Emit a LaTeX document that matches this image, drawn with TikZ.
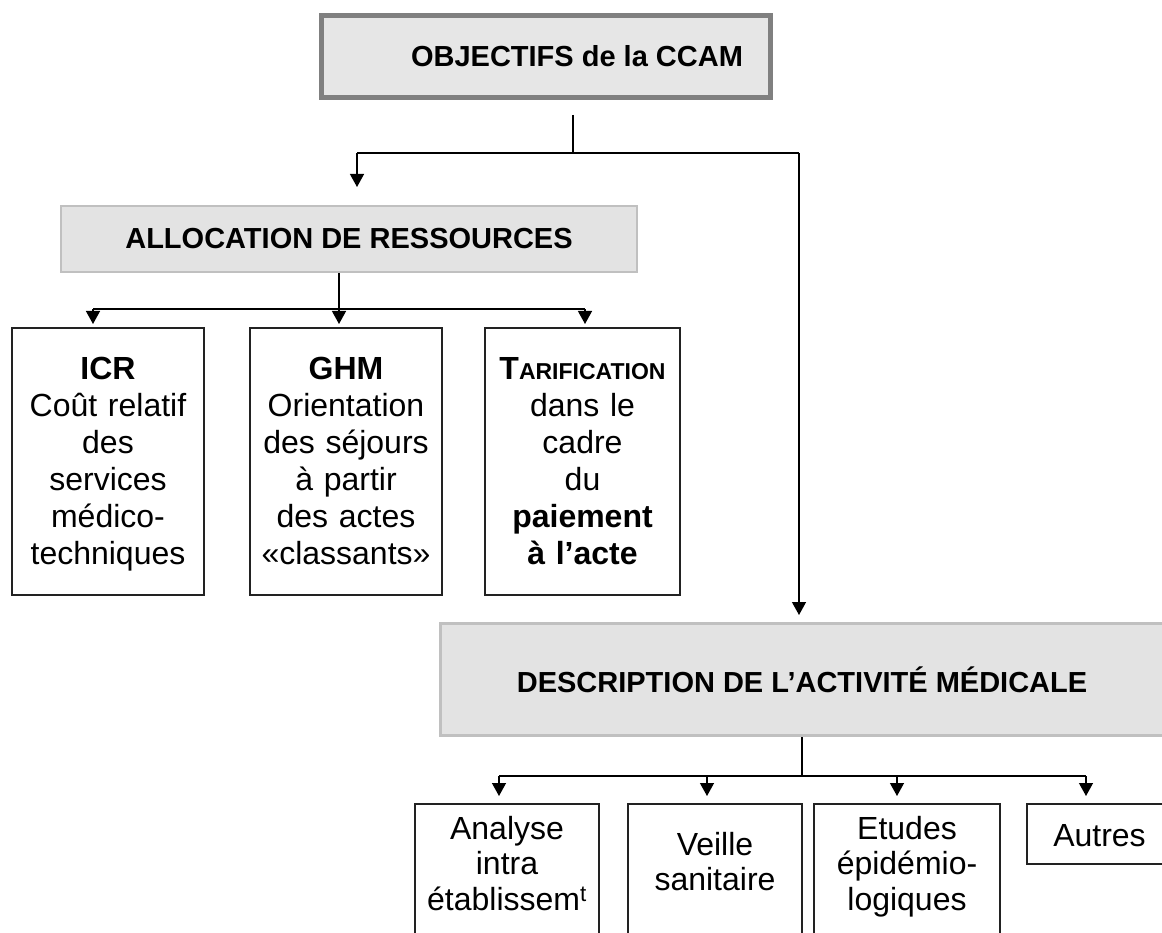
\documentclass[tikz,border=0pt]{standalone}
\usepackage{fontspec}
\setmainfont{Liberation Sans}
\usetikzlibrary{arrows.meta}
\definecolor{topborder}{HTML}{808080}
\definecolor{topfill}{HTML}{E6E6E6}
\definecolor{midborder}{HTML}{C0C0C0}
\definecolor{midfill}{HTML}{E3E3E3}
\definecolor{leafborder}{HTML}{222222}
\begin{document}
\begin{tikzpicture}[x=1pt,y=-1pt,
  titlefont/.style={font=\fontsize{29pt}{34pt}\selectfont\bfseries},
  topbox/.style={draw=topborder, fill=topfill, line width=5pt, minimum width=449pt, minimum height=82pt, inner sep=0pt},
  midbox/.style={draw=midborder, fill=midfill, inner sep=0pt},
  leafbox/.style={draw=leafborder, fill=white, line width=1.3pt, inner sep=0pt},
  leaftext/.style={align=center, inner sep=0pt, anchor=north, text width=185pt, font=\fontsize{32pt}{37pt}\selectfont},
  lowtext/.style={align=center, inner sep=0pt, text width=180pt, font=\fontsize{32pt}{35.5pt}\selectfont},
  thick line/.style={line width=2.2pt},
  thin line/.style={line width=1.3pt},
  arr/.style={line width=1.3pt, -{Triangle[width=14pt,length=13pt]}}
]
\useasboundingbox (0,0) rectangle (1162,933);
\clip (0,0) rectangle (1162,933);

% top box
\node[topbox] (obj) at (546,56.5) {};
\node[titlefont, inner sep=0pt] (objT) at (577,56) {OBJECTIFS de la CCAM};

% allocation box
\node[midbox, line width=2pt, minimum width=576pt, minimum height=66pt] (alloc) at (349,239) {};
\node[titlefont, inner sep=0pt] (allocT) at (alloc.center) {ALLOCATION DE RESSOURCES};

% description box
\node[midbox, line width=3pt, minimum width=723pt, minimum height=112pt] (desc) at (802,679.5) {};
\node[titlefont, inner sep=0pt] (descT) at (desc.center) {DESCRIPTION DE L’ACTIVITÉ MÉDICALE};

% allocation leaves
\node[leafbox, minimum width=192pt, minimum height=267pt] (icr) at (108,461.5) {};
\node[leaftext] (icrT) at (108,357) {\textbf{ICR}\\Coût relatif\\des\\services\\médico-\\techniques};
\node[leafbox, minimum width=192pt, minimum height=267pt] (ghm) at (346,461.5) {};
\node[leaftext] (ghmT) at (346,357) {\textbf{GHM}\\Orientation\\des séjours\\à partir\\des actes\\«classants»};
\node[leafbox, minimum width=195pt, minimum height=267pt] (tar) at (582.5,461.5) {};
\node[leaftext] (tarT) at (582.5,357) {\textbf{T{\fontsize{23pt}{37pt}\selectfont ARIFICATION}}\\dans le\\cadre\\du\\\textbf{paiement}\\\textbf{à l’acte}};

% description leaves
\node[leafbox, minimum width=184pt, minimum height=156pt] (ana) at (507,882) {};
\node[lowtext, anchor=north] (anaT) at (507,815.7) {Analyse\\intra\\établissem\textsuperscript{t}};
\node[leafbox, minimum width=174pt, minimum height=156pt] (vei) at (715,882) {};
\node[lowtext, anchor=north] (veiT) at (715,831.7) {Veille\\sanitaire};
\node[leafbox, minimum width=186pt, minimum height=156pt] (etu) at (907,882) {};
\node[lowtext, anchor=north] (etuT) at (907,815.7) {Etudes\\épidémio-\\logiques};
\node[leafbox, minimum width=145pt, minimum height=60pt] (aut) at (1099.5,834) {};
\node[lowtext, text width=140pt] (autT) at (1099.5,836) {Autres};

% connectors: top level
\coordinate (s1) at (573,115);
\coordinate (j1) at (573,153);
\coordinate (jL) at (357,153);
\coordinate (jR) at (799,153);
\coordinate (tAlloc) at (357,187);
\coordinate (tDesc) at (799,615);
\draw[line width=2.6pt] (s1) -- (j1);
\draw[thick line] (jL) -- (jR);
\draw[arr] (jL) -- (tAlloc);
\draw[arr] (jR) -- (tDesc);

% connectors: allocation
\coordinate (a0) at (339,273);
\coordinate (a1) at (339,309);
\coordinate (aL) at (93,309);
\coordinate (aR) at (585,309);
\coordinate (tIcr) at (93,324);
\coordinate (tGhm) at (339,324);
\coordinate (tTar) at (585,324);
\draw[thin line] (a0) -- (a1);
\draw[line width=2.4pt] (aL) -- (aR);
\draw[arr] (aL) -- (tIcr);
\draw[arr] (a1) -- (tGhm);
\draw[arr] (aR) -- (tTar);

% connectors: description
\coordinate (d0) at (802,737);
\coordinate (d1) at (802,776);
\coordinate (dA) at (499,776);
\coordinate (dV) at (707,776);
\coordinate (dE) at (897,776);
\coordinate (dO) at (1086,776);
\coordinate (tAna) at (499,796);
\coordinate (tVei) at (707,796);
\coordinate (tEtu) at (897,796);
\coordinate (tAut) at (1086,796);
\draw[line width=2.6pt] (d0) -- (d1);
\draw[thin line] (dA) -- (dO);
\draw[arr] (dA) -- (tAna);
\draw[arr] (dV) -- (tVei);
\draw[arr] (dE) -- (tEtu);
\draw[arr] (dO) -- (tAut);
\end{tikzpicture}
\end{document}
